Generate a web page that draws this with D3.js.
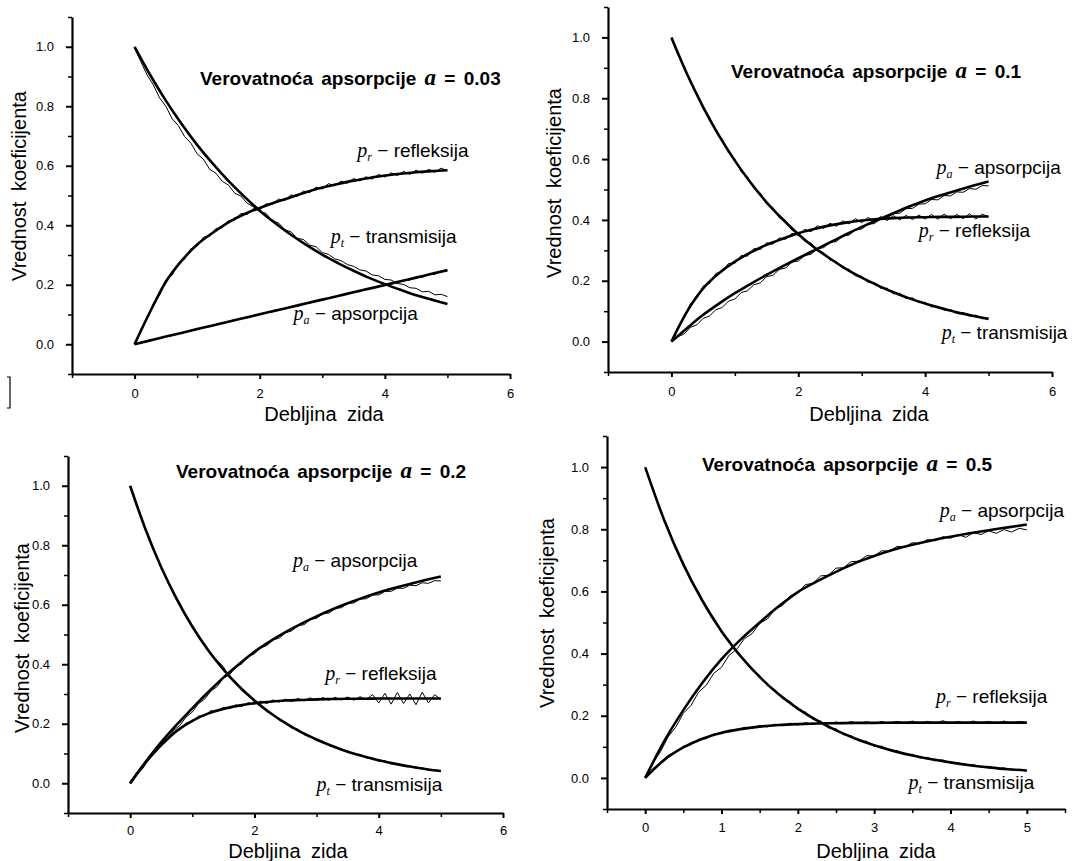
<!DOCTYPE html>
<html>
<head>
<meta charset="utf-8">
<script src="https://cdn.jsdelivr.net/npm/d3@7/dist/d3.min.js"></script>
<style>
body { margin: 0; background: #fff; }
svg { display: block; }
text { font-family: "Liberation Sans", Arial, sans-serif; fill: #000; }
.axis text { font-size: 13px; }
.axis path, .axis line { stroke: #000; }
.axis path { stroke-width: 2.2px; }
.major line { stroke-width: 2px; }
.minor line { stroke-width: 1.5px; }
.title { font-size: 19px; font-weight: bold; word-spacing: 3px; }
.sym { font-family: "Liberation Serif", "Times New Roman", serif; font-style: italic; }
.axtitle { font-size: 20px; word-spacing: 5px; }
.curvelabel { font-size: 19px; }
</style>
</head>
<body>
<div id="chart"></div>
<script>

// wall thickness grid of the fitted curves and of the simulation
var debljina = [0, 0.25, 0.5, 0.75, 1, 1.25, 1.5, 1.75, 2, 2.25, 2.5, 2.75, 3, 3.25, 3.5, 3.75, 4, 4.25, 4.5, 4.75, 5];
var debljinaSim = [0, 0.1, 0.2, 0.3, 0.4, 0.5, 0.6, 0.7, 0.8, 0.9, 1, 1.1, 1.2, 1.3, 1.4, 1.5, 1.6, 1.7, 1.8, 1.9,
	2, 2.1, 2.2, 2.3, 2.4, 2.5, 2.6, 2.7, 2.8, 2.9, 3, 3.1, 3.2, 3.3, 3.4, 3.5, 3.6, 3.7, 3.8, 3.9,
	4, 4.1, 4.2, 4.3, 4.4, 4.5, 4.6, 4.7, 4.8, 4.9, 5];

// a = 0.03
var ptA003 = [1.000, 0.905, 0.819, 0.741, 0.670, 0.607, 0.549, 0.497, 0.449, 0.407, 0.368, 0.333, 0.301, 0.273, 0.247, 0.223, 0.202, 0.183, 0.165, 0.150, 0.135];
var prA003 = [0, 0.110, 0.210, 0.280, 0.335, 0.375, 0.410, 0.437, 0.458, 0.477, 0.494, 0.512, 0.527, 0.539, 0.550, 0.559, 0.567, 0.573, 0.578, 0.582, 0.585];
var paA003 = [0, 0.013, 0.026, 0.038, 0.051, 0.063, 0.076, 0.088, 0.101, 0.113, 0.125, 0.138, 0.150, 0.162, 0.175, 0.187, 0.199, 0.212, 0.224, 0.237, 0.249];
var ptA003sim = [0.995, 0.950, 0.905, 0.872, 0.828, 0.800, 0.758, 0.735, 0.698, 0.676, 0.640, 0.622, 0.588, 0.575, 0.548, 0.535, 0.508, 0.498, 0.474, 0.462,
	0.446, 0.440, 0.415, 0.408, 0.385, 0.378, 0.356, 0.352, 0.333, 0.328, 0.308, 0.302, 0.287, 0.281, 0.268, 0.262, 0.250, 0.246, 0.233, 0.230,
	0.218, 0.216, 0.204, 0.201, 0.190, 0.188, 0.176, 0.178, 0.166, 0.168, 0.160];
var prA003sim = [0.000, 0.050, 0.086, 0.137, 0.165, 0.216, 0.232, 0.273, 0.286, 0.321, 0.330, 0.360, 0.362, 0.389, 0.391, 0.416, 0.417, 0.440, 0.436, 0.457,
	0.452, 0.472, 0.470, 0.488, 0.483, 0.502, 0.497, 0.515, 0.510, 0.528, 0.522, 0.540, 0.532, 0.548, 0.541, 0.557, 0.549, 0.563, 0.555, 0.571,
	0.562, 0.576, 0.567, 0.581, 0.571, 0.585, 0.575, 0.588, 0.578, 0.592, 0.583];
var paA003sim = [0.000, 0.006, 0.009, 0.016, 0.019, 0.026, 0.029, 0.036, 0.040, 0.045, 0.049, 0.056, 0.059, 0.066, 0.069, 0.076, 0.079, 0.086, 0.089, 0.096,
	0.099, 0.106, 0.109, 0.116, 0.119, 0.126, 0.128, 0.136, 0.138, 0.146, 0.148, 0.156, 0.158, 0.166, 0.168, 0.176, 0.177, 0.186, 0.187, 0.196,
	0.197, 0.206, 0.206, 0.216, 0.216, 0.226, 0.225, 0.236, 0.235, 0.246, 0.248];

// a = 0.1
var ptA01 = [1.000, 0.878, 0.771, 0.677, 0.595, 0.522, 0.458, 0.403, 0.353, 0.310, 0.273, 0.239, 0.210, 0.185, 0.162, 0.142, 0.125, 0.110, 0.096, 0.085, 0.074];
var prA01 = [0, 0.100, 0.175, 0.225, 0.263, 0.293, 0.318, 0.338, 0.356, 0.370, 0.382, 0.391, 0.398, 0.403, 0.406, 0.408, 0.409, 0.410, 0.410, 0.411, 0.411];
var paA01 = [0, 0.045, 0.088, 0.125, 0.159, 0.190, 0.219, 0.247, 0.274, 0.300, 0.326, 0.352, 0.377, 0.400, 0.422, 0.444, 0.464, 0.481, 0.497, 0.512, 0.526];
var ptA01sim = [0.995, 0.944, 0.907, 0.850, 0.818, 0.765, 0.738, 0.689, 0.666, 0.620, 0.600, 0.558, 0.542, 0.503, 0.489, 0.452, 0.441, 0.407, 0.398, 0.366,
	0.358, 0.330, 0.324, 0.297, 0.292, 0.268, 0.264, 0.241, 0.238, 0.216, 0.215, 0.194, 0.194, 0.175, 0.176, 0.157, 0.159, 0.141, 0.144, 0.128,
	0.129, 0.114, 0.116, 0.103, 0.105, 0.092, 0.096, 0.083, 0.087, 0.075, 0.078];
var prA01sim = [0.000, 0.048, 0.078, 0.125, 0.142, 0.182, 0.191, 0.224, 0.229, 0.257, 0.257, 0.283, 0.281, 0.306, 0.302, 0.325, 0.320, 0.341, 0.336, 0.356,
	0.350, 0.369, 0.361, 0.381, 0.372, 0.389, 0.379, 0.397, 0.387, 0.404, 0.391, 0.408, 0.396, 0.411, 0.398, 0.414, 0.400, 0.415, 0.401, 0.416,
	0.403, 0.418, 0.402, 0.419, 0.404, 0.418, 0.404, 0.420, 0.403, 0.419, 0.410];
var paA01sim = [0.000, 0.016, 0.025, 0.047, 0.055, 0.076, 0.084, 0.105, 0.112, 0.133, 0.140, 0.161, 0.167, 0.187, 0.193, 0.213, 0.218, 0.237, 0.242, 0.261,
	0.265, 0.283, 0.287, 0.305, 0.309, 0.326, 0.329, 0.347, 0.350, 0.367, 0.370, 0.386, 0.388, 0.404, 0.406, 0.421, 0.422, 0.437, 0.438, 0.452,
	0.453, 0.467, 0.466, 0.480, 0.479, 0.492, 0.491, 0.503, 0.501, 0.513, 0.512];

// a = 0.2
var ptA02 = [1.000, 0.852, 0.726, 0.619, 0.527, 0.449, 0.383, 0.326, 0.278, 0.237, 0.202, 0.172, 0.147, 0.125, 0.106, 0.091, 0.077, 0.066, 0.056, 0.048, 0.041];
var prA02 = [0, 0.070, 0.128, 0.176, 0.210, 0.234, 0.250, 0.261, 0.269, 0.274, 0.278, 0.280, 0.282, 0.283, 0.284, 0.284, 0.285, 0.285, 0.285, 0.285, 0.285];
var paA02 = [0, 0.072, 0.138, 0.197, 0.252, 0.305, 0.355, 0.400, 0.442, 0.477, 0.508, 0.536, 0.561, 0.584, 0.605, 0.624, 0.641, 0.656, 0.670, 0.683, 0.695];
var ptA02sim = [0.995, 0.934, 0.885, 0.820, 0.779, 0.721, 0.686, 0.634, 0.606, 0.557, 0.530, 0.490, 0.468, 0.430, 0.413, 0.392, 0.354, 0.341, 0.311, 0.300,
	0.273, 0.265, 0.240, 0.233, 0.211, 0.206, 0.185, 0.182, 0.163, 0.160, 0.143, 0.141, 0.126, 0.124, 0.110, 0.109, 0.097, 0.097, 0.085, 0.086,
	0.074, 0.076, 0.065, 0.067, 0.057, 0.059, 0.050, 0.052, 0.044, 0.046, 0.040];
var prA02sim = [0.000, 0.034, 0.055, 0.088, 0.102, 0.133, 0.144, 0.172, 0.180, 0.203, 0.206, 0.226, 0.227, 0.244, 0.241, 0.255, 0.251, 0.263, 0.258, 0.271,
	0.266, 0.276, 0.268, 0.280, 0.273, 0.283, 0.275, 0.285, 0.277, 0.287, 0.278, 0.288, 0.279, 0.289, 0.280, 0.290, 0.279, 0.291, 0.281, 0.298,
	0.270, 0.302, 0.266, 0.305, 0.268, 0.300, 0.264, 0.306, 0.270, 0.298, 0.282];
var paA02sim = [0.000, 0.028, 0.049, 0.081, 0.101, 0.131, 0.149, 0.178, 0.194, 0.223, 0.239, 0.268, 0.283, 0.310, 0.325, 0.353, 0.365, 0.390, 0.402, 0.425,
	0.435, 0.455, 0.463, 0.482, 0.488, 0.506, 0.512, 0.530, 0.533, 0.551, 0.554, 0.570, 0.572, 0.588, 0.590, 0.604, 0.606, 0.619, 0.620, 0.633,
	0.633, 0.645, 0.645, 0.656, 0.655, 0.666, 0.664, 0.674, 0.672, 0.681, 0.680];

// a = 0.5
var ptA05 = [1.000, 0.829, 0.687, 0.570, 0.472, 0.392, 0.325, 0.269, 0.223, 0.185, 0.153, 0.127, 0.105, 0.087, 0.072, 0.060, 0.050, 0.041, 0.034, 0.028, 0.024];
var prA05 = [0, 0.058, 0.098, 0.126, 0.145, 0.157, 0.165, 0.170, 0.173, 0.175, 0.176, 0.177, 0.177, 0.178, 0.178, 0.178, 0.178, 0.178, 0.178, 0.178, 0.178];
var paA05 = [0, 0.118, 0.218, 0.306, 0.382, 0.445, 0.500, 0.552, 0.598, 0.632, 0.663, 0.691, 0.714, 0.734, 0.750, 0.764, 0.776, 0.787, 0.797, 0.806, 0.815];
var ptA05sim = [0.995, 0.932, 0.857, 0.805, 0.736, 0.693, 0.633, 0.598, 0.544, 0.515, 0.467, 0.444, 0.402, 0.382, 0.346, 0.330, 0.297, 0.284, 0.255, 0.246,
	0.219, 0.212, 0.188, 0.183, 0.161, 0.158, 0.139, 0.136, 0.119, 0.118, 0.102, 0.102, 0.088, 0.088, 0.075, 0.076, 0.064, 0.066, 0.056, 0.058,
	0.048, 0.049, 0.041, 0.043, 0.035, 0.037, 0.030, 0.032, 0.026, 0.027, 0.022];
var prA05sim = [0.000, 0.030, 0.047, 0.073, 0.082, 0.102, 0.107, 0.124, 0.126, 0.141, 0.142, 0.154, 0.152, 0.163, 0.159, 0.169, 0.164, 0.173, 0.168, 0.176,
	0.170, 0.178, 0.172, 0.179, 0.174, 0.180, 0.175, 0.181, 0.175, 0.181, 0.176, 0.182, 0.175, 0.182, 0.176, 0.183, 0.175, 0.182, 0.176, 0.184,
	0.175, 0.182, 0.176, 0.183, 0.176, 0.182, 0.175, 0.183, 0.176, 0.182, 0.178];
var paA05sim = [0.000, 0.048, 0.084, 0.132, 0.163, 0.208, 0.233, 0.276, 0.298, 0.337, 0.356, 0.395, 0.414, 0.448, 0.464, 0.497, 0.511, 0.542, 0.555, 0.586,
	0.596, 0.622, 0.626, 0.650, 0.652, 0.675, 0.676, 0.696, 0.697, 0.715, 0.714, 0.731, 0.729, 0.745, 0.742, 0.757, 0.753, 0.767, 0.763, 0.776,
	0.771, 0.783, 0.774, 0.789, 0.783, 0.795, 0.787, 0.799, 0.791, 0.803, 0.798];

// tick values and texts
var yTickValues = [0, 0.2, 0.4, 0.6, 0.8, 1.0];
var yMinorValues = [-0.1, 0.1, 0.3, 0.5, 0.7, 0.9, 1.1];
var xTicksWide = [0, 2, 4, 6];
var xMinorWide = [-1, 1, 3, 5];
var xTicksNarrow = [0, 1, 2, 3, 4, 5];
var xMinorNarrow = [-0.5, 0.5, 1.5, 2.5, 3.5, 4.5, 5.5];
var apsorpcija = ["0.03", "0.1", "0.2", "0.5"];
var curveNames = {t: "transmisija", r: "refleksija", a: "apsorpcija"};

// layout of the four panels (pixels), labels are given in data units
var panels = [
	{a: apsorpcija[0], left: 72, right: 510, top: 17, bottom: 374, xDomain: [-1, 6], xTicks: xTicksWide, xMinor: xMinorWide, tickPad: 10,
		titleX: 200, titleY: 85, yTitleX: 26, yTitleY: 186, xTitleX: 324, xTitleY: 421,
		curves: {t: [ptA003, ptA003sim], r: [prA003, prA003sim], a: [paA003, paA003sim]},
		labels: [{k: "r", x: 3.56, y: 0.63}, {k: "t", x: 3.135, y: 0.339}, {k: "a", x: 2.54, y: 0.082}]},
	{a: apsorpcija[1], left: 608, right: 1052, top: 7, bottom: 372, xDomain: [-1, 6], xTicks: xTicksWide, xMinor: xMinorWide, tickPad: 10,
		titleX: 731, titleY: 78, yTitleX: 561, yTitleY: 183, xTitleX: 869, xTitleY: 421,
		curves: {t: [ptA01, ptA01sim], r: [prA01, prA01sim], a: [paA01, paA01sim]},
		labels: [{k: "a", x: 4.18, y: 0.551}, {k: "r", x: 3.90, y: 0.343}, {k: "t", x: 4.26, y: 0.008}]},
	{a: apsorpcija[2], left: 68, right: 503, top: 456, bottom: 813, xDomain: [-1, 6], xTicks: xTicksWide, xMinor: xMinorWide, tickPad: 8,
		titleX: 176, titleY: 478, yTitleX: 29, yTitleY: 638, xTitleX: 288, xTitleY: 858,
		curves: {t: [ptA02, ptA02sim], r: [prA02, prA02sim], a: [paA02, paA02sim]},
		labels: [{k: "a", x: 2.62, y: 0.727}, {k: "r", x: 3.14, y: 0.346}, {k: "t", x: 3.00, y: -0.027}]},
	{a: apsorpcija[3], left: 607, right: 1065, top: 436, bottom: 809, xDomain: [-0.5, 5.5], xTicks: xTicksNarrow, xMinor: xMinorNarrow, tickPad: 9,
		titleX: 702, titleY: 471, yTitleX: 554, yTitleY: 613, xTitleX: 876, xTitleY: 858,
		curves: {t: [ptA05, ptA05sim], r: [prA05, prA05sim], a: [paA05, paA05sim]},
		labels: [{k: "a", x: 3.86, y: 0.841}, {k: "r", x: 3.81, y: 0.241}, {k: "t", x: 3.45, y: -0.037}]}
];

var svg = d3.select("#chart").append("svg")
	.attr("width", 1077)
	.attr("height", 861);

panels.forEach(function(p){

	drawPanel(p);
});

// small bracket left of the first panel
svg.append("path")
	.attr("d", "M7,377H10V408H7")
	.attr("fill", "none")
	.attr("stroke", "#000")
	.attr("stroke-width", 1.2);

// draws one panel with axes, curves and labels
function drawPanel(p){

	var x = d3.scaleLinear().domain(p.xDomain).range([p.left, p.right]),
		y = d3.scaleLinear().domain([-0.1, 1.1]).range([p.bottom, p.top]);

	var g = svg.append("g");

	// minor ticks
	g.append("g")
		.attr("class", "axis minor")
		.attr("transform", "translate(0," + p.bottom + ")")
		.call(d3.axisBottom(x).tickValues(p.xMinor).tickSize(4).tickSizeOuter(0).tickFormat(""))
		.select(".domain").remove();

	g.append("g")
		.attr("class", "axis minor")
		.attr("transform", "translate(" + p.left + ",0)")
		.call(d3.axisLeft(y).tickValues(yMinorValues).tickSize(4).tickSizeOuter(0).tickFormat(""))
		.select(".domain").remove();

	// major x axis
	g.append("g")
		.attr("class", "axis major")
		.attr("transform", "translate(0," + p.bottom + ")")
		.call(d3.axisBottom(x).tickValues(p.xTicks).tickSize(5).tickPadding(p.tickPad).tickSizeOuter(0).tickFormat(d3.format("d")));

	// major y axis
	g.append("g")
		.attr("class", "axis major")
		.attr("transform", "translate(" + p.left + ",0)")
		.call(d3.axisLeft(y).tickValues(yTickValues).tickSize(6).tickPadding(12).tickSizeOuter(0).tickFormat(d3.format(".1f")));

	// simulated (noisy) curves
	var simLine = d3.line()
		.x(function(d, i){ return x(debljinaSim[i]); })
		.y(function(d){ return y(d); });

	// fitted curves
	var fitLine = d3.line()
		.x(function(d, i){ return x(debljina[i]); })
		.y(function(d){ return y(d); })
		.curve(d3.curveMonotoneX);

	["t", "r", "a"].forEach(function(k){

		g.append("path")
			.attr("d", fitLine(p.curves[k][0]))
			.attr("fill", "none")
			.attr("stroke", "#000")
			.attr("stroke-width", 2.6);

		g.append("path")
			.attr("d", simLine(p.curves[k][1]))
			.attr("fill", "none")
			.attr("stroke", "#000")
			.attr("stroke-width", 1);
	});

	// curve labels
	p.labels.forEach(function(l){

		var t = g.append("text")
			.attr("class", "curvelabel")
			.attr("x", x(l.x))
			.attr("y", y(l.y));

		t.append("tspan")
			.attr("class", "sym")
			.style("font-size", "20px")
			.text("p");

		t.append("tspan")
			.attr("class", "sym")
			.style("font-size", "12px")
			.attr("dy", 4)
			.text(l.k);

		t.append("tspan")
			.attr("dy", -4)
			.text(" \u2212 " + curveNames[l.k]);
	});

	// panel title
	var title = g.append("text")
		.attr("class", "title")
		.attr("x", p.titleX)
		.attr("y", p.titleY);

	title.append("tspan").text("Verovatnoća apsorpcije ");

	title.append("tspan")
		.attr("class", "sym")
		.style("font-size", "23px")
		.text("a");

	title.append("tspan").text(" = " + p.a);

	// axis titles
	g.append("text")
		.attr("class", "axtitle")
		.attr("text-anchor", "middle")
		.attr("transform", "translate(" + p.yTitleX + "," + p.yTitleY + ") rotate(-90)")
		.text("Vrednost koeficijenta");

	g.append("text")
		.attr("class", "axtitle")
		.attr("text-anchor", "middle")
		.attr("x", p.xTitleX)
		.attr("y", p.xTitleY)
		.text("Debljina zida");
}
</script>
</body>
</html>
